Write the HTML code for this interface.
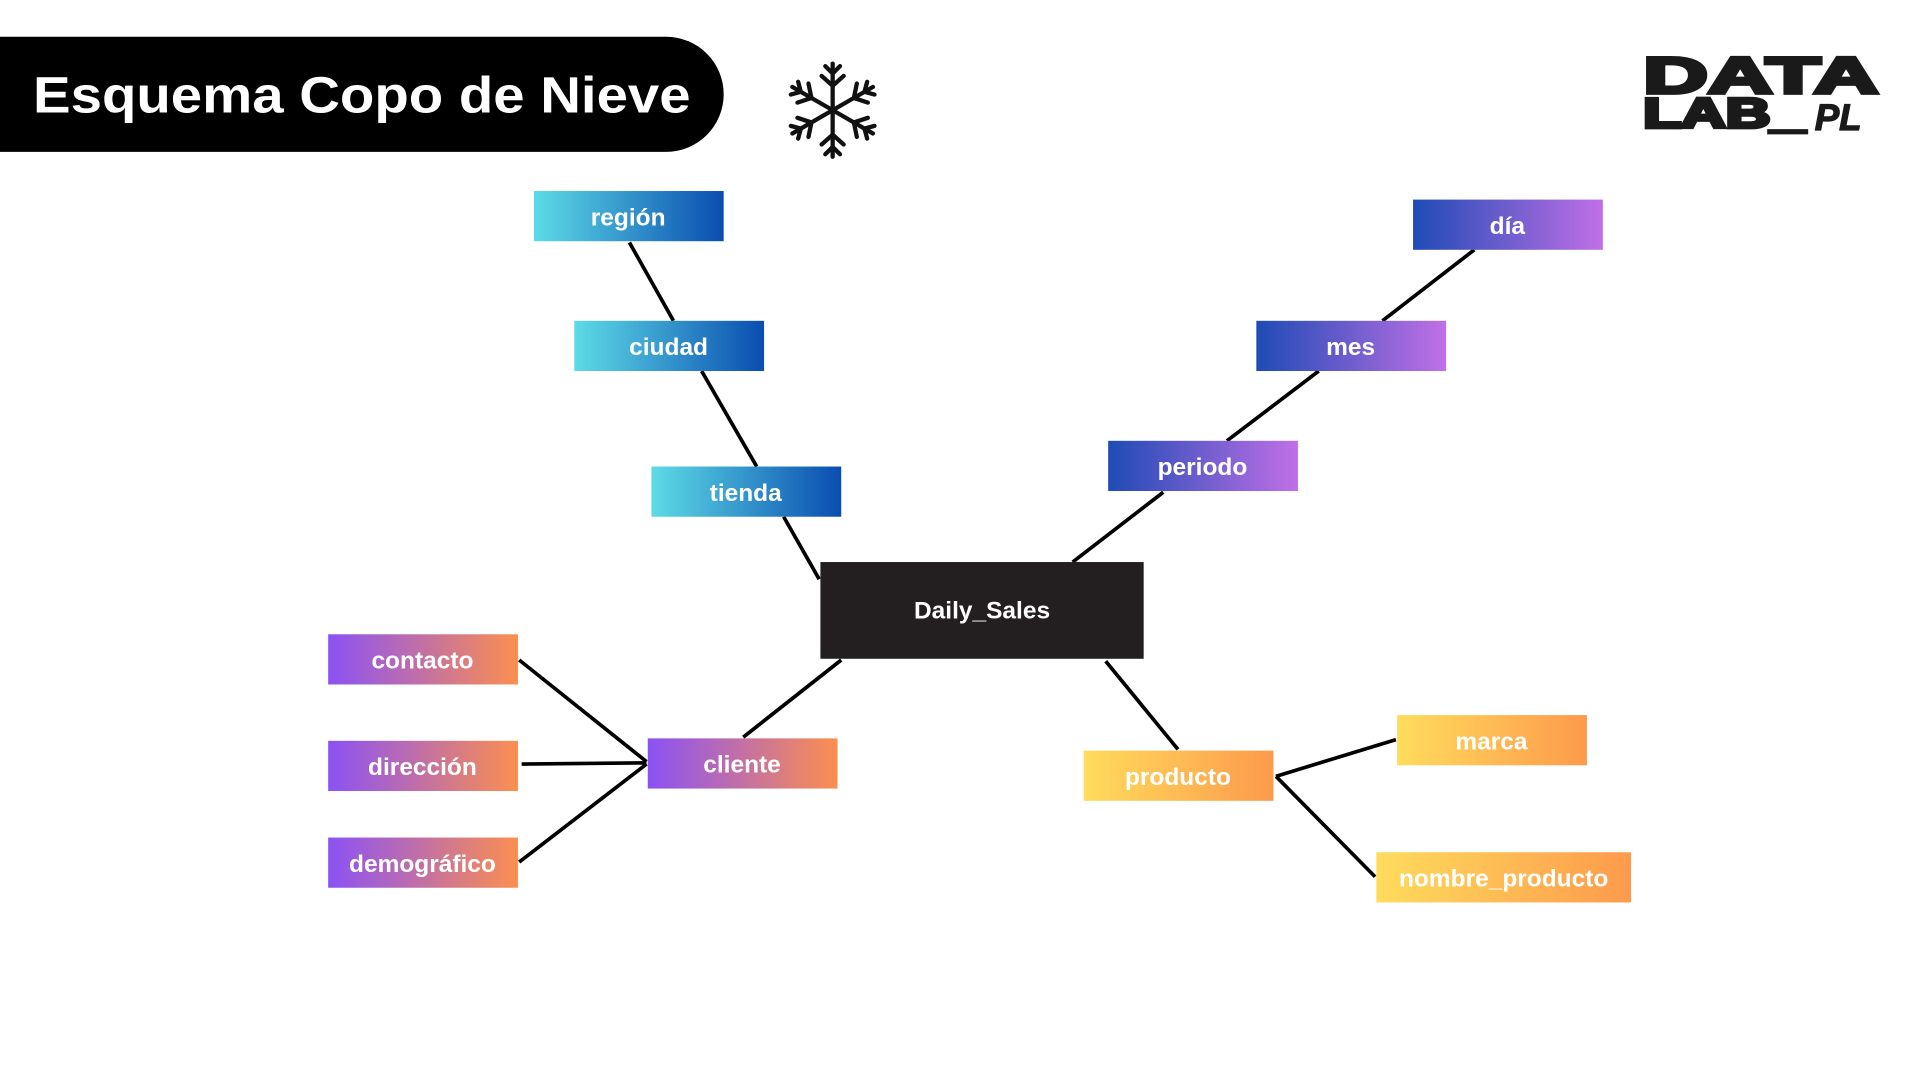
<!DOCTYPE html>
<html><head><meta charset="utf-8"><style>
html,body{margin:0;padding:0;background:#fff;width:1920px;height:1080px;overflow:hidden}
svg{display:block}
text{font-family:"Liberation Sans",sans-serif;font-weight:bold}
</style></head><body>
<svg width="1920" height="1080" viewBox="0 0 1568 882" xmlns="http://www.w3.org/2000/svg">
<defs>
<linearGradient id="cy" x1="0" x2="1"><stop offset="0" stop-color="#5ddbe6"/><stop offset="1" stop-color="#0a4db0"/></linearGradient>
<linearGradient id="bp" x1="0" x2="1"><stop offset="0" stop-color="#1f4bb5"/><stop offset="1" stop-color="#c070e6"/></linearGradient>
<linearGradient id="po" x1="0" x2="1"><stop offset="0" stop-color="#8b52f5"/><stop offset="1" stop-color="#fb8f50"/></linearGradient>
<linearGradient id="yo" x1="0" x2="1"><stop offset="0" stop-color="#fedc5c"/><stop offset="1" stop-color="#fd9a4c"/></linearGradient>
</defs>
<path d="M0 30 H544 A47 47 0 0 1 591 77 A47 47 0 0 1 544 124 H0 Z" fill="#000"/>
<text x="27" y="92" font-size="42" fill="#fff" textLength="537" lengthAdjust="spacingAndGlyphs">Esquema Copo de Nieve</text>
<g stroke="#111" stroke-width="3.5" fill="none" stroke-linecap="round" transform="translate(680,90)">
<g id="arm"><line x1="0" y1="0" x2="0" y2="-38"/><path d="M0 -20 L-9 -28 M0 -20 L9 -28 M0 -30 L-6 -36 M0 -30 L6 -36"/></g>
<use href="#arm" transform="rotate(60)"/><use href="#arm" transform="rotate(120)"/><use href="#arm" transform="rotate(180)"/><use href="#arm" transform="rotate(240)"/><use href="#arm" transform="rotate(300)"/>
</g>
<g fill="#1a1a1a" stroke="#1a1a1a" stroke-width="3">
<text x="1342" y="76" font-size="42" textLength="192" lengthAdjust="spacingAndGlyphs">DATA</text>
<text x="1342" y="104" font-size="34" textLength="132" lengthAdjust="spacingAndGlyphs">LAB_</text>
<text x="1482" y="106" font-size="30" font-style="italic" stroke-width="1">PL</text>
</g>
<g stroke="#000" stroke-width="3">
<line x1="514" y1="198" x2="550" y2="262"/><line x1="573" y1="303" x2="618" y2="381"/><line x1="640" y1="422" x2="669" y2="473"/>
<line x1="876" y1="459" x2="950" y2="402"/><line x1="1002" y1="360" x2="1077" y2="303"/><line x1="1129" y1="262" x2="1204" y2="204"/>
<line x1="687" y1="539" x2="607" y2="602"/>
<line x1="424" y1="539" x2="528" y2="622"/><line x1="426" y1="624" x2="528" y2="623"/><line x1="424" y1="704" x2="528" y2="624"/>
<line x1="903" y1="540" x2="962" y2="612"/>
<line x1="1042" y1="634" x2="1140" y2="604"/><line x1="1042" y1="634" x2="1123" y2="716"/>
</g>
<g font-size="20" fill="#fff" text-anchor="middle">
<rect x="436" y="156" width="155" height="41" fill="url(#cy)"/><text x="513" y="184">región</text>
<rect x="469" y="262" width="155" height="41" fill="url(#cy)"/><text x="546" y="290">ciudad</text>
<rect x="532" y="381" width="155" height="41" fill="url(#cy)"/><text x="609" y="409">tienda</text>
<rect x="670" y="459" width="264" height="79" fill="#231f20"/><text x="802" y="505">Daily_Sales</text>
<rect x="905" y="360" width="155" height="41" fill="url(#bp)"/><text x="982" y="388">periodo</text>
<rect x="1026" y="262" width="155" height="41" fill="url(#bp)"/><text x="1103" y="290">mes</text>
<rect x="1154" y="163" width="155" height="41" fill="url(#bp)"/><text x="1231" y="191">día</text>
<rect x="268" y="518" width="155" height="41" fill="url(#po)"/><text x="345" y="546">contacto</text>
<rect x="268" y="605" width="155" height="41" fill="url(#po)"/><text x="345" y="633">dirección</text>
<rect x="268" y="684" width="155" height="41" fill="url(#po)"/><text x="345" y="712">demográfico</text>
<rect x="529" y="603" width="155" height="41" fill="url(#po)"/><text x="606" y="631">cliente</text>
<rect x="885" y="613" width="155" height="41" fill="url(#yo)"/><text x="962" y="641">producto</text>
<rect x="1141" y="584" width="155" height="41" fill="url(#yo)"/><text x="1218" y="612">marca</text>
<rect x="1124" y="696" width="208" height="41" fill="url(#yo)"/><text x="1228" y="724">nombre_producto</text>
</g>
</svg>
</body></html>
